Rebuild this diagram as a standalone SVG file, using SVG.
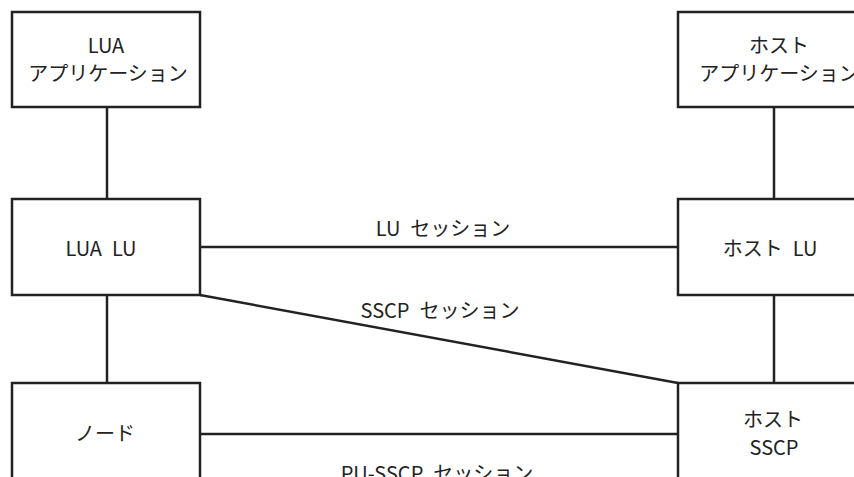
<svg xmlns="http://www.w3.org/2000/svg" width="854" height="477" viewBox="0 0 854 477">
<style>
.box{fill:#fff;stroke:#222;stroke-width:2.5}
.ln{stroke:#222;stroke-width:2.5;fill:none}
text{font-family:"Noto Sans CJK JP","Noto Sans",sans-serif;font-size:20px;fill:#222;text-anchor:middle}
</style>
<rect width="854" height="477" fill="#fff"/>
<g id="connectors">
<line class="ln" x1="107" y1="107" x2="107" y2="199"/>
<line class="ln" x1="107" y1="295" x2="107" y2="383"/>
<line class="ln" x1="774" y1="107" x2="774" y2="199"/>
<line class="ln" x1="774" y1="295" x2="774" y2="383"/>
<line class="ln" x1="200" y1="247" x2="678" y2="247"/>
<line class="ln" x1="200" y1="295" x2="678" y2="383"/>
<line class="ln" x1="200" y1="434" x2="678" y2="434"/>
<text x="443" y="236">LU&#8194;セッション</text>
<text x="440" y="318">SSCP&#8194;セッション</text>
<text x="437" y="481">PU-SSCP&#8194;セッション</text>
</g>
<g id="lua-app">
<rect class="box" x="12" y="12" width="188" height="95"/>
<text x="106" y="53">LUA</text>
<text x="108" y="81">アプリケーション</text>
</g>
<g id="host-app">
<rect class="box" x="678" y="12" width="200" height="95"/>
<text x="779" y="53">ホスト</text>
<text x="779" y="81">アプリケーション</text>
</g>
<g id="lua-lu">
<rect class="box" x="12" y="199" width="188" height="96"/>
<text x="101" y="256">LUA&#8194;LU</text>
</g>
<g id="host-lu">
<rect class="box" x="678" y="199" width="200" height="96"/>
<text x="770" y="256">ホスト&#8194;LU</text>
</g>
<g id="node">
<rect class="box" x="12" y="383" width="188" height="110"/>
<text x="105" y="441">ノード</text>
</g>
<g id="host-sscp">
<rect class="box" x="678" y="383" width="200" height="110"/>
<text x="773" y="427">ホスト</text>
<text x="774" y="455">SSCP</text>
</g>
</svg>
